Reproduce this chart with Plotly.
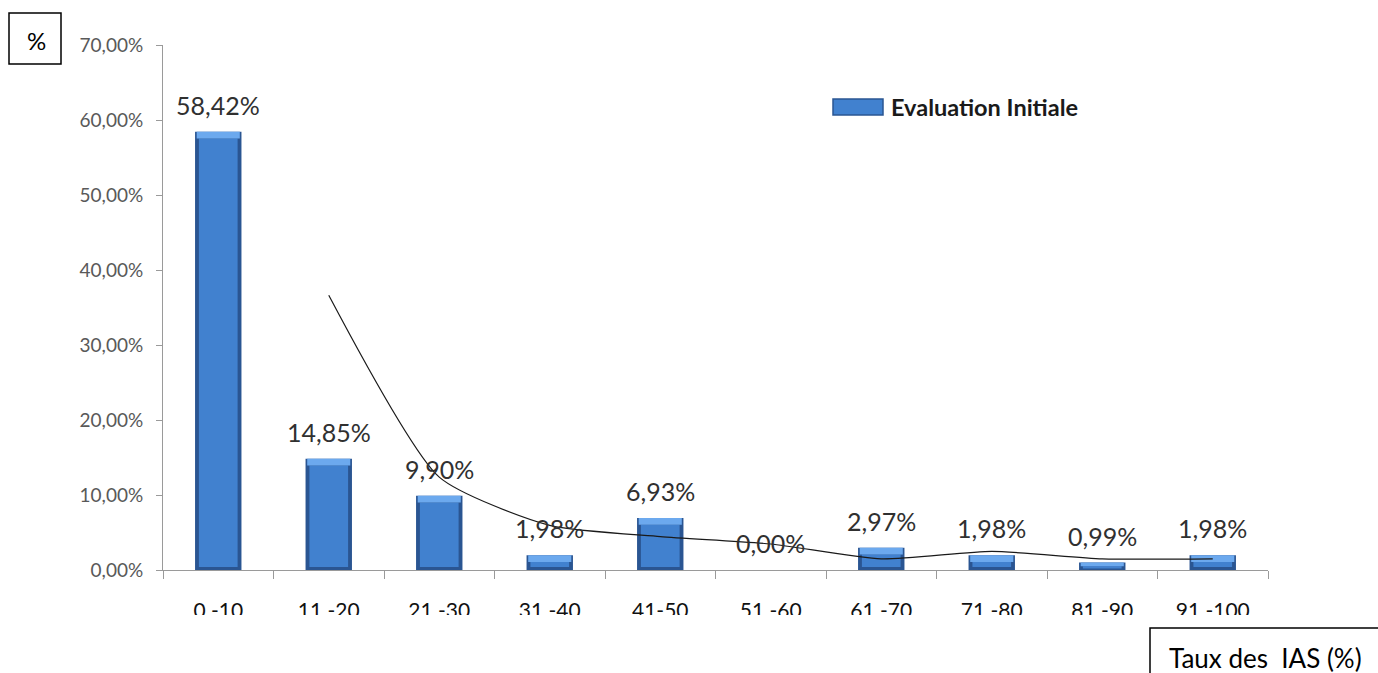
import numpy as np
import plotly.graph_objects as go

# Classes of the IAS rate and share of each class (initial evaluation)
categories = ["0 -10", "11 -20", "21 -30", "31 -40", "41-50",
              "51 -60", "61 -70", "71 -80", "81 -90", "91 -100"]
values = [58.42, 14.85, 9.90, 1.98, 6.93, 0.00, 2.97, 1.98, 0.99, 1.98]
# Two-period moving average trend
trend = [None, 36.64, 12.38, 5.94, 4.46, 3.47, 1.49, 2.48, 1.49, 1.49]

series_name = "Evaluation Initiale"
y_title = "%"
x_title = "Taux des  IAS (%)"

FONT = "Lato, 'Open Sans', sans-serif"

v = np.array(values)
bevel_top = np.minimum(0.9, v * 0.5)
bevel_bottom = np.minimum(0.4, v * 0.2)
body = np.maximum(v - bevel_top - bevel_bottom, 0)

fig = go.Figure()

# Dark outer shell of each bar
fig.add_trace(go.Bar(x=categories, y=values, width=0.42,
                     marker=dict(color="#2A5592", line=dict(width=0)),
                     showlegend=False, hoverinfo="skip"))
# Main face
fig.add_trace(go.Bar(x=categories, y=body, base=bevel_bottom, width=0.35,
                     marker=dict(color="#4181CF", line=dict(width=0)),
                     showlegend=False, hovertemplate="%{x}<extra></extra>"))
# Light top bevel
fig.add_trace(go.Bar(x=categories, y=bevel_top, base=v - bevel_top, width=0.39,
                     marker=dict(color="#6CA9EE", line=dict(width=0)),
                     showlegend=False, hoverinfo="skip"))

# Smoothed trend line
fig.add_trace(go.Scatter(x=categories, y=trend, mode="lines",
                         line=dict(color="#1a1a1a", width=1.2, shape="spline", smoothing=0.6),
                         showlegend=False, connectgaps=False, hoverinfo="skip"))

# Value labels above bars
for c, val in zip(categories, values):
    fig.add_annotation(x=c, y=val, text=f"{val:.2f}%".replace(".", ","),
                       showarrow=False, yanchor="bottom", yshift=10,
                       font=dict(family=FONT, size=25, color="#303030"))

fig.update_layout(
    width=1378, height=673,
    margin=dict(l=163, r=110, t=45, b=103),
    paper_bgcolor="white", plot_bgcolor="white",
    barmode="overlay",
    separators=", ",
    showlegend=False,
    font=dict(family=FONT),
    xaxis=dict(
        type="category", range=[-0.5, 9.5],
        showline=True, linecolor="#9a9a9a", linewidth=1,
        ticks="outside", tickson="boundaries", ticklen=8, tickcolor="#9a9a9a",
        showgrid=False, zeroline=False,
        tickfont=dict(family=FONT, size=21, color="#111111"),
        ticklabelstandoff=22,
    ),
    yaxis=dict(
        range=[0, 70], dtick=10, tickformat=".2f", ticksuffix="%",
        showline=True, linecolor="#9a9a9a", linewidth=1,
        ticks="outside", ticklen=6, tickcolor="#9a9a9a",
        showgrid=False, zeroline=False,
        tickfont=dict(family=FONT, size=19, color="#595959"),
        ticklabelstandoff=9,
    ),
)

shapes = [
    # legend swatch
    dict(type="rect", xref="paper", yref="paper", x0=(833 - 163) / 1105, x1=(883 - 163) / 1105,
         y0=(570 - 115) / 525, y1=(570 - 99) / 525,
         fillcolor="#4181CF", line=dict(color="#2A5592", width=1.5), layer="above"),
    # unit box top left
    dict(type="rect", xref="paper", yref="paper", x0=(9 - 163) / 1105, x1=(61 - 163) / 1105,
         y0=(570 - 64) / 525, y1=(570 - 13) / 525,
         fillcolor="white", line=dict(color="black", width=1.5), layer="above"),
    # category labels are cut along their lower edge
    dict(type="rect", xref="paper", yref="paper", x0=-0.05, x1=1.0,
         y0=(570 - 626) / 525, y1=(570 - 615) / 525,
         fillcolor="white", line=dict(width=0), layer="above"),
    # axis title box bottom right
    dict(type="rect", xref="paper", yref="paper", x0=(1150 - 163) / 1105, x1=(1385 - 163) / 1105,
         y0=(570 - 690) / 525, y1=(570 - 628) / 525,
         fillcolor="white", line=dict(color="black", width=1.5), layer="above"),
]
fig.update_layout(shapes=shapes)

fig.add_annotation(xref="paper", yref="paper", x=(889 - 163) / 1105, y=(570 - 107) / 525,
                   text=f"<b>{series_name}</b>", showarrow=False, xanchor="left", yanchor="middle",
                   font=dict(family=FONT, size=23.5, color="#1a1a1a"))
fig.add_annotation(xref="paper", yref="paper", x=(36 - 163) / 1105, y=(570 - 40) / 525,
                   text=y_title, showarrow=False, xanchor="center", yanchor="middle",
                   font=dict(family=FONT, size=24, color="black"))
fig.add_annotation(xref="paper", yref="paper", x=(1265 - 163) / 1105, y=(570 - 658) / 525,
                   text=x_title, showarrow=False, xanchor="center", yanchor="middle",
                   font=dict(family=FONT, size=26, color="black"))

fig.write_html("out.html")
